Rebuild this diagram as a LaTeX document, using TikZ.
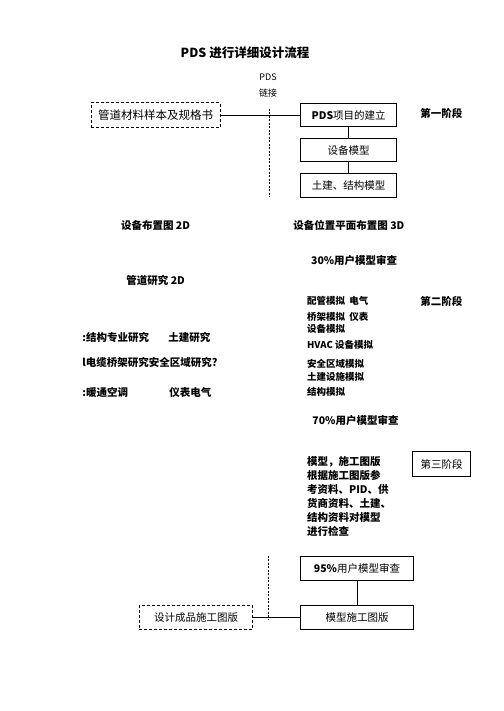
\documentclass[tikz,border=0pt]{standalone}
\usepackage{fontspec}
\setmainfont{Noto Sans CJK SC}
\usetikzlibrary{positioning}

\begin{document}
\begin{tikzpicture}[x=1pt, y=-1pt, align=center, line width=0.8pt,
    font=\fontsize{10.5}{14}\selectfont,
    box/.style={draw, minimum height=24pt, inner sep=2pt},
    note/.style={anchor=west, inner sep=0pt, font=\fontsize{10.5}{14}\selectfont\bfseries},
    simnote/.style={note, font=\fontsize{9.5}{12}\selectfont\bfseries},
    link/.style={dash pattern=on 2pt off 1.5pt}]
    \useasboundingbox (0,0) rectangle (503,711);

    \node [font=\fontsize{12.5}{15}\selectfont\bfseries] (title) at (245,53) {PDS 进行详细设计流程};
    \node [font=\fontsize{9}{15.3}\selectfont] (pdslink) at (268,85.5) {PDS\\链接};

    % first stage
    \node [box, densely dashed, minimum width=129pt, minimum height=25pt, font=\fontsize{11.5}{14}\selectfont] (spec) at (155.5,115.3) {管道材料样本及规格书};
    \node [box, minimum width=96pt, minimum height=23pt] (pds) at (348.7,115.3) {\textbf{PDS}项目的建立};
    \node [box, below=11pt of pds, minimum width=96pt, minimum height=23pt] (equip) {设备模型};
    \node [box, below=11pt of equip, minimum width=96pt] (civil) {土建、结构模型};
    \node [note, font=\fontsize{10.5}{14}\selectfont\bfseries] (phase1) at (420,113) {第一阶段};

    \coordinate (linktop) at (269,109);
    \coordinate (linkbottom) at (269,197);

    % second stage
    \node [note] (layout2d) at (120.7,225) {设备布置图 2D};
    \node [note] (layout3d) at (293,225) {设备位置平面布置图 3D};
    \node [note] (review30) at (310.7,260.7) {30\%用户模型审查};
    \node [note] (pipe2d) at (126,281) {管道研究 2D};
    \node [note] (phase2) at (420,301) {第二阶段};

    \node [simnote] (simpipe) at (306.7,300.7) {配管模拟\ \ 电气};
    \node [simnote] (simtray) at (306.7,316.7) {桥架模拟\ \ 仪表};
    \node [simnote] (simequip) at (306.7,329) {设备模拟};
    \node [simnote] (simhvac) at (306.7,345) {HVAC 设备模拟};
    \node [simnote] (simsafe) at (306.7,364) {安全区域模拟};
    \node [simnote] (simcivil) at (306.7,376.7) {土建设施模拟};
    \node [simnote] (simstruct) at (306.7,391.7) {结构模拟};

    \node [note] (study1) at (82,337.7) {:结构专业研究};
    \node [note] (study1b) at (168,337.7) {土建研究};
    \node [note] (study2) at (82,362.3) {l电缆桥架研究安全区域研究?};
    \node [note] (study3) at (82,392.7) {:暖通空调};
    \node [note] (study3b) at (169,392.7) {仪表电气};

    % third stage
    \node [note] (review70) at (312,420.7) {70\%用户模型审查};
    \node [box, minimum width=58pt, minimum height=24.3pt] (phase3) at (441.7,464) {第三阶段};
    \node [note, align=left] (check) at (306.7,496.7) {模型，施工图版\\根据施工图版参\\考资料、PID、供\\货商资料、土建、\\结构资料对模型\\进行检查};

    \node [box, minimum width=112.7pt] (review95) at (357,568) {\textbf{95\%}用户模型审查};
    \node [box, below=25pt of review95, minimum width=112.7pt] (final) {模型施工图版};
    \node [box, densely dashed, minimum width=113.3pt] (product) at (196,617.2) {设计成品施工图版};

    \coordinate (linktop2) at (268.3,555.7);
    \coordinate (linkbottom2) at (268.3,620);

    \draw (spec) -- (pds);
    \draw (pds) -- (equip);
    \draw (equip) -- (civil);
    \draw (review95) -- (final);
    \draw (product) -- (final);
    \draw [link] (linktop) -- (linkbottom);
    \draw [link] (linktop2) -- (linkbottom2);

\end{tikzpicture}
\end{document}
